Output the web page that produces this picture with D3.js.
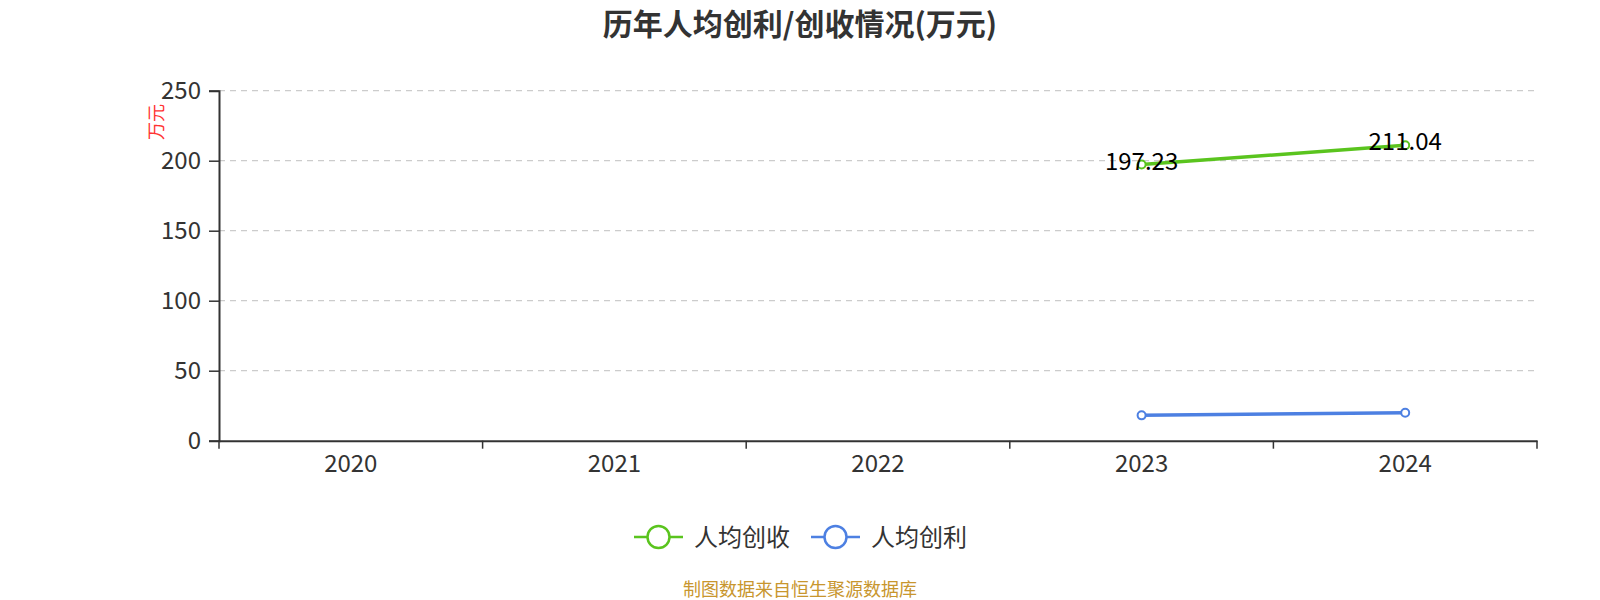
<!DOCTYPE html>
<html><head><meta charset="utf-8">
<script src="https://cdn.jsdelivr.net/npm/d3@7"></script>
<style>body{margin:0;background:#fff;}svg{display:block;font-family:"Noto Sans CJK SC","Noto Sans",sans-serif;}</style>
</head><body><svg id="c" width="1600" height="600"></svg>
<script>
const categories = ["2020","2021","2022","2023","2024"];
const revenuePerCapita = [null, null, null, 197.23, 211.04];
const profitPerCapita = [null, null, null, 18.1, 20.0];
const yTicks = [0, 50, 100, 150, 200, 250];
const seriesNames = ["人均创收", "人均创利"];
const colors = ["#5ac41e", "#4d80e2"];

const svg = d3.select("#c");
const m = {left: 219, right: 1537, top: 90.7, bottom: 440.7};
const x = d3.scaleBand().domain(categories).range([m.left, m.right]);
const y = d3.scaleLinear().domain([0, 250]).range([m.bottom, m.top]);
const FF = "'Noto Sans CJK SC','Noto Sans',sans-serif";

// title
svg.append("text").attr("x", 800).attr("y", 35).attr("text-anchor", "middle")
  .attr("font-size", 30).attr("font-weight", "bold").attr("fill", "#333")
  .text("历年人均创利/创收情况(万元)");

// grid
svg.append("g").selectAll("line").data(yTicks.filter(d => d > 0)).join("line")
  .attr("x1", m.left).attr("x2", m.right).attr("y1", d => y(d)).attr("y2", d => y(d))
  .attr("stroke", "#ccc").attr("stroke-width", 1.3).attr("stroke-dasharray", "6,5");

// y axis
const ya = svg.append("g").attr("transform", `translate(${m.left},0)`)
  .call(d3.axisLeft(y).tickValues(yTicks).tickSize(10).tickPadding(8));
ya.select(".domain").attr("stroke", "#333").attr("stroke-width", 2);
ya.selectAll(".tick line").attr("stroke", "#333").attr("stroke-width", 1.5);
ya.selectAll(".tick text").attr("font-size", 24).attr("fill", "#333").attr("font-family", FF);

svg.append("text").attr("transform", `translate(163,122) rotate(-90)`)
  .attr("text-anchor", "middle").attr("font-size", 18).attr("fill", "#f33")
  .text("万元");

// x axis
const xa = svg.append("g").attr("transform", `translate(0,${m.bottom})`)
  .call(d3.axisBottom(x).tickSize(0).tickPadding(14));
xa.select(".domain").attr("stroke", "#333").attr("stroke-width", 2);
xa.selectAll(".tick text").attr("font-size", 24).attr("fill", "#333").attr("font-family", FF);
const bounds = categories.map(c => x(c)).concat([x(categories[categories.length-1]) + x.bandwidth()]);
xa.selectAll(".bt").data(bounds).join("line").attr("class","bt")
  .attr("x1", d => d).attr("x2", d => d).attr("y1", 0).attr("y2", 8)
  .attr("stroke", "#333").attr("stroke-width", 1.5);

// series
const series = [revenuePerCapita, profitPerCapita];
series.forEach((vals, i) => {
  const pts = categories.map((c, j) => ({c, v: vals[j]})).filter(d => d.v != null);
  const line = d3.line().x(d => x(d.c) + x.bandwidth()/2).y(d => y(d.v));
  svg.append("path").datum(pts).attr("d", line).attr("fill", "none")
    .attr("stroke", colors[i]).attr("stroke-width", 3.5);
  svg.append("g").selectAll("circle").data(pts).join("circle")
    .attr("cx", d => x(d.c) + x.bandwidth()/2).attr("cy", d => y(d.v)).attr("r", 4)
    .attr("fill", "#fff").attr("stroke", colors[i]).attr("stroke-width", 2);
  if (i === 0) {
    svg.append("g").selectAll("text").data(pts).join("text")
      .attr("x", d => x(d.c) + x.bandwidth()/2).attr("y", d => y(d.v) + 5)
      .attr("text-anchor", "middle").attr("font-size", 24).attr("fill", "#000")
      .text(d => d.v.toFixed(2));
  }
});

// legend
const legendItems = [{x: 634, tx: 694}, {x: 811, tx: 871}];
legendItems.forEach((it, i) => {
  const g = svg.append("g");
  g.append("line").attr("x1", it.x).attr("x2", it.x + 49).attr("y1", 537).attr("y2", 537)
    .attr("stroke", colors[i]).attr("stroke-width", 2.5);
  g.append("circle").attr("cx", it.x + 24.5).attr("cy", 537).attr("r", 11)
    .attr("fill", "#fff").attr("stroke", colors[i]).attr("stroke-width", 2.5);
  g.append("text").attr("x", it.tx).attr("y", 546).attr("font-size", 24).attr("fill", "#333")
    .text(seriesNames[i]);
});

// footer
svg.append("text").attr("x", 800).attr("y", 596).attr("text-anchor", "middle")
  .attr("font-size", 18).attr("fill", "#c8962e").text("制图数据来自恒生聚源数据库");
</script></body></html>
